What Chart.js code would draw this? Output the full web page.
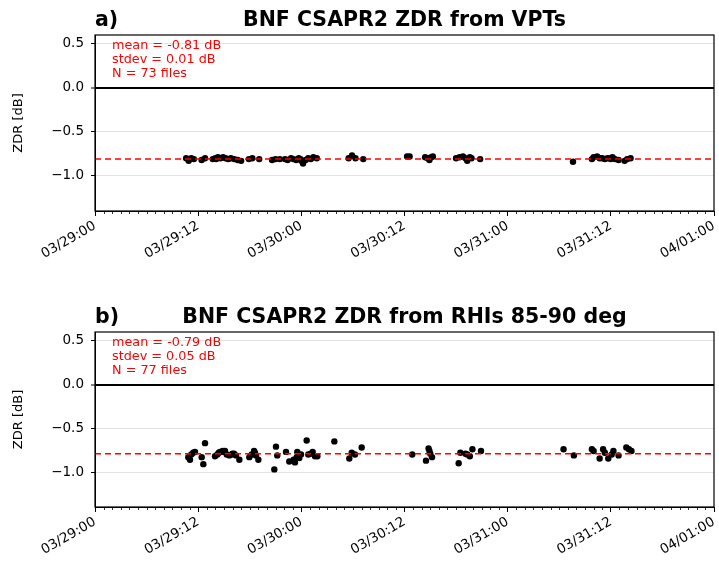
<!DOCTYPE html>
<html><head><meta charset="utf-8">
<script src="https://cdn.jsdelivr.net/npm/chart.js@4"></script>
<style>
html,body{margin:0;padding:0;background:#fff;}
#wrap{position:relative;width:719px;height:565px;overflow:hidden;}
canvas{position:absolute;left:0;}
</style></head><body>
<div id="wrap">
<canvas id="ca" width="719" height="297" style="top:0"></canvas>
<canvas id="cb" width="719" height="268" style="top:297px"></canvas>
</div>
<script>
// ---- data ----
const xTickHours = [0, 12, 24, 36, 48, 60, 72];
const xTickLabels = ["03/29:00", "03/29:12", "03/30:00", "03/30:12", "03/31:00", "03/31:12", "04/01:00"];
const minorTickHours = Array.from({length: 73}, (_, i) => i);
const yTicks = [-1.0, -0.5, 0.0, 0.5];

// panel a: hours since 03/29 00:00, ZDR [dB]
const vptHours = [10.6,10.9,11.2,11.5,12.4,12.8,
  13.7,14.0,14.1,14.3,14.6,14.9,15.2,15.5,15.8,16.2,16.6,17.0,
  17.9,18.3,19.1, 20.6,21.0,21.5,
  22.1,22.4,22.8,23.1,23.4,23.7,23.9,24.0,24.2,24.5,24.8,25.1,25.4,25.8,
  29.5,29.9,30.3,31.2,
  36.3,36.6,38.4,38.7,38.9,39.1,39.3,
  42.0,42.4,42.8,43.1,43.3,43.6,43.8,44.8,
  55.6,
  57.8,58.0,58.4,58.7,59.0,59.3,59.6,59.9,60.0,60.2,60.5,60.9,61.6,61.9,62.3];
const vptZdr = [-0.80,-0.83,-0.80,-0.81,-0.82,-0.80,
  -0.81,-0.80,-0.81,-0.79,-0.80,-0.79,-0.80,-0.81,-0.80,-0.81,-0.82,-0.83,
  -0.81,-0.80,-0.81, -0.82,-0.81,-0.81,
  -0.81,-0.82,-0.80,-0.81,-0.82,-0.80,-0.81,-0.83,-0.86,-0.82,-0.80,-0.81,-0.79,-0.80,
  -0.80,-0.77,-0.80,-0.81,
  -0.78,-0.78,-0.79,-0.80,-0.82,-0.79,-0.78,
  -0.80,-0.79,-0.78,-0.80,-0.83,-0.79,-0.80,-0.81,
  -0.84,
  -0.81,-0.79,-0.78,-0.80,-0.80,-0.81,-0.80,-0.80,-0.81,-0.79,-0.81,-0.82,-0.83,-0.81,-0.80];
const vptStats = ["mean = -0.81 dB", "stdev = 0.01 dB", "N = 73 files"];
const vptMean = -0.81;

// panel b
const rhiHours = [10.85,11.05,11.2,11.43,11.63,12.41,12.6,12.8,
  13.96,14.23,14.4,14.54,14.85,15.0,15.12,15.32,15.62,15.9,16.0,16.17,16.4,16.79,
  17.95,18.23,18.5,18.6,18.73,19.0,
  20.86,21.05,21.2,
  22.22,22.6,23.1,23.26,23.46,23.53,23.76,23.96,24.62,24.81,25.1,25.32,25.59,25.86,
  27.84,29.58,29.86,30.24,31.02,
  36.9,38.5,38.8,38.9,39.0,39.2,
  42.3,42.5,43.1,43.3,43.6,43.9,44.9,
  54.5,55.7,57.8,58.0,58.7,59.1,59.3,59.7,60.1,60.3,60.9,61.8,62.1,62.4];
const rhiZdr = [-0.83,-0.86,-0.80,-0.78,-0.77,-0.83,-0.91,-0.67,
  -0.82,-0.80,-0.78,-0.77,-0.76,-0.77,-0.76,-0.80,-0.81,-0.80,-0.79,-0.79,-0.81,-0.86,
  -0.83,-0.80,-0.76,-0.78,-0.81,-0.86,
  -0.97,-0.71,-0.81,
  -0.77,-0.88,-0.86,-0.89,-0.83,-0.77,-0.84,-0.80,-0.64,-0.80,-0.79,-0.77,-0.82,-0.82,
  -0.65,-0.845,-0.78,-0.80,-0.72,
  -0.80,-0.87,-0.73,-0.76,-0.79,-0.83,
  -0.90,-0.78,-0.79,-0.80,-0.82,-0.74,-0.76,
  -0.74,-0.81,-0.74,-0.76,-0.845,-0.74,-0.78,-0.845,-0.80,-0.76,-0.81,-0.72,-0.74,-0.76];
const rhiStats = ["mean = -0.79 dB", "stdev = 0.05 dB", "N = 77 files"];
const rhiMean = -0.79;

Chart.defaults.font.family = '"DejaVu Sans", sans-serif';
Chart.defaults.color = '#000';

const decor = {
  id: 'decor',
  afterDraw(chart, args, opts) {
    const {ctx, chartArea: a, scales: {x}} = chart;
    ctx.save();
    // minor ticks
    ctx.strokeStyle = '#000'; ctx.lineWidth = 0.8;
    minorTickHours.forEach(h => {
      if (xTickHours.includes(h)) return;
      const px = Math.round(x.getPixelForValue(h)) + 0.5;
      ctx.beginPath(); ctx.moveTo(px, a.bottom); ctx.lineTo(px, a.bottom + 3); ctx.stroke();
    });
    // frame
    ctx.lineWidth = 1.2;
    ctx.strokeRect(a.left, a.top, a.right - a.left, a.bottom - a.top);
    // titles
    ctx.fillStyle = '#000';
    ctx.font = 'bold 20.5px "DejaVu Sans"';
    ctx.textBaseline = 'alphabetic';
    ctx.textAlign = 'left';
    ctx.fillText(opts.tag, a.left, a.top - 9);
    ctx.textAlign = 'center';
    ctx.fillText(opts.title, (a.left + a.right) / 2, a.top - 9);
    // stats text
    ctx.fillStyle = '#ff0000';
    ctx.font = '12.8px "DejaVu Sans"';
    ctx.textAlign = 'left';
    opts.lines.forEach((t, i) => ctx.fillText(t, a.left + 17, a.top + 14 + i * 14));
    ctx.restore();
  }
};

function makeChart(id, hours, zdr, mean, lines, tag, title, xHeight) {
  const pts = hours.map((h, i) => ({x: h, y: zdr[i]}));
  return new Chart(document.getElementById(id), {
    type: 'scatter',
    data: {
      datasets: [
        {type: 'line', data: [{x: xTickHours[0], y: mean}, {x: xTickHours[xTickHours.length - 1], y: mean}],
         borderColor: '#ff0000', borderWidth: 1.5, borderDash: [6, 4], pointRadius: 0, fill: false},
        {data: pts, backgroundColor: '#000', borderWidth: 0, pointRadius: 3.2, pointHoverRadius: 3.2}
      ]
    },
    options: {
      responsive: false, animation: false,
      layout: {padding: {top: 35, right: 5, left: 0, bottom: 0}},
      plugins: {legend: {display: false}, tooltip: {enabled: false},
                decor: {tag: tag, title: title, lines: lines}},
      scales: {
        x: {
          type: 'linear', min: 0, max: 72,
          afterBuildTicks: s => { s.ticks = xTickHours.map(v => ({value: v})); },
          afterFit: s => { s.height = xHeight; s.paddingLeft = 0; s.paddingRight = 0; },
          ticks: {callback: (v, i) => xTickLabels[i], maxRotation: 30, minRotation: 30,
                  font: {size: 13.5}, padding: 2, color: '#000'},
          grid: {drawOnChartArea: false, drawTicks: true, tickLength: 5, tickColor: '#000', tickWidth: 1},
          border: {display: true, color: '#000', width: 1}
        },
        y: {
          min: -1.4, max: 0.6,
          afterBuildTicks: s => { s.ticks = yTicks.map(v => ({value: v})); },
          afterFit: s => { s.width = 95; },
          ticks: {callback: v => v.toFixed(1).replace('-', '\u2212'), font: {size: 13.5}, padding: 7, color: '#000'},
          grid: {
            color: c => (c.tick && c.tick.value === 0) ? '#000' : '#e3e3e3',
            lineWidth: c => (c.tick && c.tick.value === 0) ? 2 : 1,
            drawTicks: true, tickLength: 4, tickColor: '#000', tickWidth: 1
          },
          border: {display: true, color: '#000', width: 1},
          title: {display: true, text: 'ZDR [dB]', font: {size: 13}, color: '#000', padding: {top: 11, bottom: 0}}
        }
      }
    },
    plugins: [decor]
  });
}

makeChart('ca', vptHours, vptZdr, vptMean, vptStats, 'a)', 'BNF CSAPR2 ZDR from VPTs', 86);
makeChart('cb', rhiHours, rhiZdr, rhiMean, rhiStats, 'b)', 'BNF CSAPR2 ZDR from RHIs 85-90 deg', 58);
</script>
</body></html>
